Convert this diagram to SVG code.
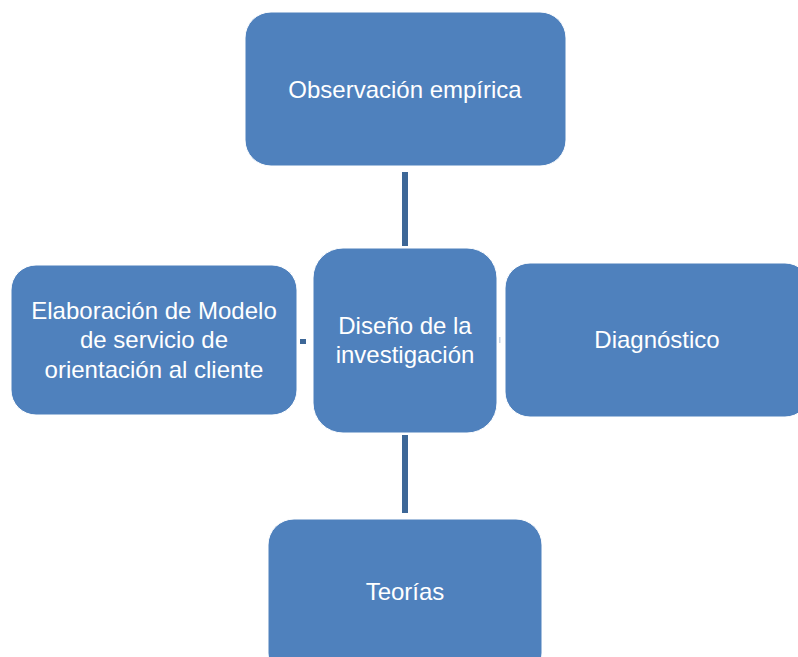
<svg xmlns="http://www.w3.org/2000/svg" width="798" height="657" viewBox="0 0 798 657">
<style>
.box{fill:#4F81BD;stroke:#ffffff;stroke-width:1}
.lbl{font-family:"Liberation Sans",Arial,sans-serif;font-size:24px;fill:#ffffff;text-anchor:middle}
.con{fill:#3D6797}
</style>
<rect width="798" height="657" fill="#ffffff"/>
<g id="connectors">
<rect class="con" x="402" y="172" width="6" height="74"/>
<rect class="con" x="402" y="435" width="6" height="78"/>
<rect class="con" x="300" y="339" width="6" height="5"/>
<rect x="499" y="337" width="1.5" height="6" fill="#c9d6e6"/>
</g>
<g id="n-observacion">
<rect class="box" x="245" y="12" width="321" height="154" rx="26"/>
<text class="lbl" x="405" y="98">Observación empírica</text>
</g>
<g id="n-diseno">
<rect class="box" x="313" y="248" width="184" height="185" rx="30"/>
<text class="lbl" x="405" y="334">Diseño de la</text>
<text class="lbl" x="405" y="363">investigación</text>
</g>
<g id="n-elaboracion">
<rect class="box" x="11" y="265" width="286" height="150" rx="25"/>
<text class="lbl" x="154" y="319">Elaboración de Modelo</text>
<text class="lbl" x="154" y="348">de servicio de</text>
<text class="lbl" x="154" y="378">orientación al cliente</text>
</g>
<g id="n-diagnostico">
<rect class="box" x="505" y="263" width="305" height="154" rx="25"/>
<text class="lbl" x="657" y="348">Diagnóstico</text>
</g>
<g id="n-teorias">
<rect class="box" x="268" y="519" width="274" height="160" rx="26"/>
<text class="lbl" x="405" y="600">Teorías</text>
</g>
</svg>
